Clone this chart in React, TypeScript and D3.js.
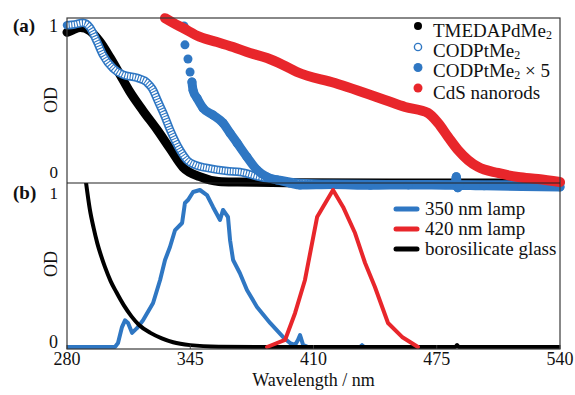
import React from "react";
import * as d3 from "d3";

// ---------- Data ----------
const xTicks = [280, 345, 410, 475, 540];

// Panel (a)
const tmedaWl = [280, 283, 287, 292, 297.4, 302.7, 308, 313.2, 320.1, 327.5, 334.3, 341.2, 350, 360, 370, 380, 400, 450, 500, 540];
const tmedaOd = [0.96, 0.975, 0.99, 0.97, 0.9, 0.8, 0.69, 0.58, 0.46, 0.34, 0.22, 0.1, 0.04, 0.01, 0.006, 0.004, 0.002, 0, 0, 0];

const codWl = [280, 284, 288.4, 292.1, 295.8, 299, 304.3, 309.5, 316.9, 322.2, 325, 328, 331, 334.3, 339.6, 343.3, 347.5, 353.8, 364.4, 371.2, 381.8, 392.3, 402.9, 420, 460, 500, 540];
const codOd = [1.005, 1.01, 1.02, 0.99, 0.9, 0.815, 0.73, 0.69, 0.67, 0.64, 0.6, 0.52, 0.44, 0.34, 0.21, 0.146, 0.115, 0.096, 0.076, 0.07, 0.038, 0.019, 0.0, -0.005, -0.008, -0.01, -0.01];

const cod5Wl = [341.7, 342.2, 343.8, 344.9, 345.9, 346.5, 348.6, 351.7, 357, 362.3, 366, 369.7, 374.9, 380.2, 385.5, 390.8, 397.6, 402.9, 420, 440, 460, 484.5, 485.3, 485.7, 486.1, 487, 500, 520, 540];
const cod5Od = [1.0, 0.88, 0.79, 0.707, 0.643, 0.59, 0.54, 0.478, 0.433, 0.382, 0.318, 0.255, 0.166, 0.083, 0.038, 0.019, 0.0, -0.013, -0.01, -0.015, -0.012, -0.015, 0.04, 0.0, -0.03, -0.015, -0.018, -0.022, -0.025];

const cdsWl = [331.7, 336, 341.2, 350.1, 359.1, 367.6, 376.5, 385.5, 393.9, 401.3, 421.3, 447.7, 458.3, 470.4, 475.7, 481, 486.2, 491.5, 496.8, 507.3, 517.9, 528.4, 540];
const cdsOd = [1.05, 1.02, 0.987, 0.93, 0.898, 0.866, 0.828, 0.796, 0.752, 0.707, 0.637, 0.529, 0.484, 0.446, 0.382, 0.293, 0.21, 0.146, 0.102, 0.064, 0.038, 0.025, 0.006];

// Panel (b)
const lamp350Wl = [280, 305.3, 306.9, 309, 310.6, 312.2, 314.3, 316.9, 320.1, 325.4, 329.1, 331.7, 334.3, 337, 340.7, 342.2, 343.8, 346.5, 350.1, 353.8, 357, 360.7, 362.3, 364.9, 366, 367.6, 371.2, 374.9, 380.2, 387.1, 393.9, 397.6, 400.3, 401.8, 402.9, 404.5, 407.1, 434.5, 435.6, 436.7, 440];
const lamp350Od = [0, 0, 0.025, 0.127, 0.17, 0.153, 0.09, 0.12, 0.17, 0.28, 0.427, 0.554, 0.637, 0.745, 0.79, 0.917, 0.936, 0.987, 1.0, 0.968, 0.892, 0.809, 0.873, 0.828, 0.68, 0.554, 0.47, 0.363, 0.255, 0.153, 0.064, 0.025, 0.013, 0.045, 0.076, 0.013, 0, 0, 0.012, 0, 0];

const lamp420Wl = [385.5, 395, 400.3, 405.5, 411.9, 415, 420.3, 425.6, 431.9, 437.2, 442.4, 449.3, 456.7, 465.1];
const lamp420Od = [0, 0.045, 0.217, 0.427, 0.828, 0.892, 1.0, 0.892, 0.726, 0.535, 0.382, 0.153, 0.064, 0];

const glassWl = [290, 292, 294, 296, 298, 300, 303, 306, 310, 314, 318, 324, 330, 336, 345, 360, 380, 484.8, 485.7, 486.6, 540];
const glassOd = [1.05, 0.88, 0.76, 0.66, 0.58, 0.51, 0.42, 0.35, 0.265, 0.195, 0.14, 0.09, 0.055, 0.03, 0.012, 0.002, 0, 0, 0.012, 0, 0];

const legendA = ["TMEDAPdMe", "CODPtMe", "CODPtMe", "CdS nanorods"];
const legendB = ["350 nm lamp", "420 nm lamp", "borosilicate glass"];

// ---------- Styles ----------
const BLUE = "#2f77c3";
const RED = "#e8262b";
const BLACK = "#000000";
const FONT = "Liberation Serif, Tinos, Times New Roman, DejaVu Serif, serif";
const TXT = "#111";

const W = 575;
const H = 395;
const L = 67, R = 560, TOP = 18, MID = 183, BOT = 349;

const x = d3.scaleLinear().domain([280, 540]).range([L, R]);
const yA = d3.scaleLinear().domain([0, 1]).range([183, 26]);
const yB = d3.scaleLinear().domain([0, 1]).range([347, 190]);

type P = [number, number];
const zip = (a: number[], b: number[]): P[] => a.map((v, i) => [v, b[i]] as P);

// split a pixel polyline where neighbouring dots are separated (steep jump at almost the same x)
function segments(pts: P[], maxDy: number, steep: number): P[][] {
  const out: P[][] = [];
  let cur: P[] = [];
  pts.forEach((p, i) => {
    if (i === 0) { cur.push(p); return; }
    const q = pts[i - 1];
    const dx = Math.abs(p[0] - q[0]);
    const dy = Math.abs(p[1] - q[1]);
    if (dy > maxDy && dy / Math.max(dx, 0.01) > steep) { out.push(cur); cur = [p]; }
    else cur.push(p);
  });
  out.push(cur);
  return out;
}

export default function App() {
  const lineA = d3.line<P>().x(d => x(d[0])).y(d => yA(d[1])).curve(d3.curveMonotoneX);
  const lineB = d3.line<P>().x(d => x(d[0])).y(d => yB(d[1]));
  const lineBSmooth = d3.line<P>().x(d => x(d[0])).y(d => yB(d[1])).curve(d3.curveMonotoneX);
  const pxLine = d3.line<P>().x(d => d[0]).y(d => d[1]).curve(d3.curveMonotoneX);

  const tmeda = zip(tmedaWl, tmedaOd);
  const cod = zip(codWl, codOd);
  const cod5 = zip(cod5Wl, cod5Od);
  const cds = zip(cdsWl, cdsOd);
  const cod5Px: P[] = cod5.map(d => [x(d[0]), yA(d[1])] as P);
  const cod5Segs = segments(cod5Px, 9.5, 2.5).filter(s => s.length > 1);

  const legendAY = [37, 57, 76.5, 98.5];
  const legendBY = [215, 235, 255];

  return (
    <div style={{ position: "fixed", left: 0, top: 0, width: W, height: H, background: "#fff" }}>
      <svg width={W} height={H} style={{ display: "block" }}>
        <defs>
          <clipPath id="clipB">
            <rect x={L} y={MID} width={R - L} height={BOT - MID + 2} />
          </clipPath>
        </defs>

        {/* ----- Panel (a) ----- */}
        <path d={lineA(tmeda) || ""} fill="none" stroke={BLACK} strokeWidth={9} strokeLinecap="round" strokeLinejoin="round" />
        <path d={lineA(cod) || ""} fill="none" stroke={BLUE} strokeWidth={8.5} strokeLinecap="round" strokeLinejoin="round" />
        <path d={lineA(cod) || ""} fill="none" stroke="#fff" strokeWidth={5.2} strokeDasharray="1.6 1.1" strokeLinejoin="round" />
        {cod5Segs.map((s, i) => (
          <path key={i} d={pxLine(s) || ""} fill="none" stroke={BLUE} strokeWidth={9} strokeLinecap="round" strokeLinejoin="round" />
        ))}
        {cod5Px.map((p, i) => (
          <circle key={i} cx={p[0]} cy={p[1]} r={4.5} fill={BLUE} />
        ))}
        <path d={lineA(cds) || ""} fill="none" stroke={RED} strokeWidth={10} strokeLinecap="round" strokeLinejoin="round" />

        {/* ----- Panel (b) ----- */}
        <g clipPath="url(#clipB)">
          <path d={lineB(zip(lamp350Wl, lamp350Od)) || ""} fill="none" stroke={BLUE} strokeWidth={4} strokeLinejoin="round" strokeLinecap="round" />
          <path d={lineBSmooth(zip(glassWl, glassOd)) || ""} fill="none" stroke={BLACK} strokeWidth={4} strokeLinejoin="round" strokeLinecap="round" />
          <path d={lineB(zip(lamp420Wl, lamp420Od)) || ""} fill="none" stroke={RED} strokeWidth={4} strokeLinejoin="round" strokeLinecap="round" />
        </g>

        {/* ----- Frame ----- */}
        <rect x={L} y={TOP} width={R - L} height={BOT - TOP} fill="none" stroke="#3a3a3a" strokeWidth={1.2} />
        <line x1={L} x2={R} y1={MID} y2={MID} stroke="#222" strokeWidth={1.2} />
        {xTicks.map(t => (
          <line key={t} x1={x(t)} x2={x(t)} y1={BOT} y2={BOT - 4} stroke="#3a3a3a" strokeWidth={1} />
        ))}

        <g fontFamily={FONT} fill={TXT}>
          {/* x tick labels */}
          {xTicks.map(t => (
            <text key={t} x={x(t)} y={365} textAnchor="middle" fontSize={18}>{t}</text>
          ))}
          <text x={(L + R) / 2} y={386} textAnchor="middle" fontSize={18}>Wavelength / nm</text>

          {/* y labels */}
          <text x={13} y={32} fontSize={19} fontWeight="bold">(a)</text>
          <text x={13} y={199} fontSize={19} fontWeight="bold">(b)</text>
          <text x={58} y={32} textAnchor="end" fontSize={18}>1</text>
          <text x={58} y={178} textAnchor="end" fontSize={17}>0</text>
          <text x={58} y={199} textAnchor="end" fontSize={17}>1</text>
          <text x={58} y={348} textAnchor="end" fontSize={18}>0</text>
          <text transform="translate(57,100) rotate(-90)" textAnchor="middle" fontSize={18}>OD</text>
          <text transform="translate(57,264) rotate(-90)" textAnchor="middle" fontSize={18}>OD</text>

          {/* Legend (a) text */}
          <text x={433} y={legendAY[0]} fontSize={19}>
            {legendA[0]}<tspan fontSize={12} dy={2}>2</tspan>
          </text>
          <text x={433} y={legendAY[1]} fontSize={19}>
            {legendA[1]}<tspan fontSize={12} dy={2}>2</tspan>
          </text>
          <text x={433} y={legendAY[2]} fontSize={19}>
            {legendA[2]}<tspan fontSize={12} dy={2}>2</tspan><tspan dy={-2}> × 5</tspan>
          </text>
          <text x={433} y={legendAY[3]} fontSize={19}>{legendA[3]}</text>

          {/* Legend (b) text */}
          {legendB.map((t, i) => (
            <text key={t} x={425} y={legendBY[i]} fontSize={19}>{t}</text>
          ))}
        </g>

        {/* Legend (a) markers */}
        <circle cx={418} cy={26} r={4} fill={BLACK} />
        <circle cx={418} cy={47} r={3.6} fill="#fff" stroke={BLUE} strokeWidth={1.4} />
        <circle cx={418} cy={67.5} r={4.5} fill={BLUE} />
        <circle cx={418} cy={88} r={4.5} fill={RED} />

        {/* Legend (b) lines */}
        {[BLUE, RED, BLACK].map((c, i) => (
          <line key={i} x1={396} x2={417} y1={legendBY[i] - 6} y2={legendBY[i] - 6} stroke={c} strokeWidth={5} strokeLinecap="round" />
        ))}
      </svg>
    </div>
  );
}
